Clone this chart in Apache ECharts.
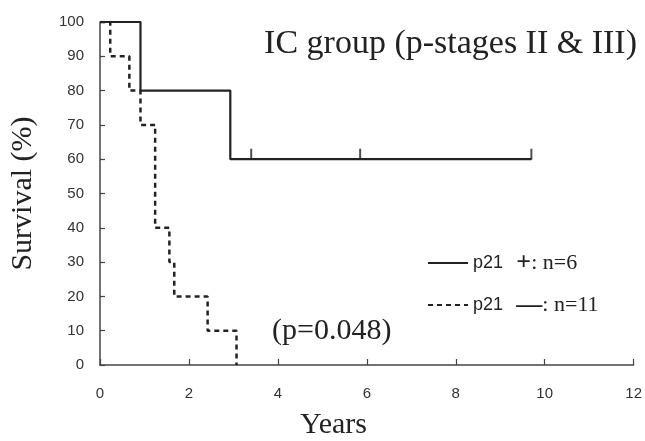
<!DOCTYPE html>
<html>
<head>
<meta charset="utf-8">
<script src="https://cdn.jsdelivr.net/npm/echarts@6/dist/echarts.min.js"></script>
<style>
  html, body { margin: 0; padding: 0; background: #fff; }
  #chart { width: 645px; height: 441px; }
</style>
</head>
<body>
<div id="chart"></div>
<script>
// Kaplan-Meier curves, [years, survival %]
const posCurve = [[0, 100], [0.91, 80], [2.93, 60], [9.7, 60]]
const negCurve = [[0, 100], [0.23, 90], [0.66, 80], [0.91, 70], [1.24, 40], [1.56, 30], [1.67, 20], [2.42, 10], [3.07, 0]]
// censored cases on the p21+ curve
const posCensored = [[3.4, 60], [5.85, 60], [9.7, 60]]

const xTicks = [0, 2, 4, 6, 8, 10, 12]
const yTicks = [0, 10, 20, 30, 40, 50, 60, 70, 80, 90, 100]

const legendText = {
	'p21+': { tag: '+', n: 6 },
	'p21-': { tag: '\u2014', n: 11 },
}

const serif = '"Liberation Serif", "DejaVu Serif", serif'
const narrow = '"Liberation Sans Narrow", "Liberation Sans", sans-serif'

const chart = echarts.init(document.getElementById('chart'))

const option = {
	animation: false,
	backgroundColor: '#fff',
	grid: { left: 88, right: 9, top: 22, bottom: 76 },
	xAxis: {
		type: 'value',
		min: xTicks[0],
		max: xTicks[xTicks.length - 1],
		interval: 2,
		axisLine: { lineStyle: { color: '#444', width: 1.5 } },
		axisTick: { inside: true, length: 6, lineStyle: { color: '#444', width: 1.2 } },
		axisLabel: { margin: 21, fontFamily: narrow, fontSize: 15, color: '#333' },
		splitLine: { show: false },
	},
	yAxis: {
		type: 'value',
		min: yTicks[0],
		max: yTicks[yTicks.length - 1],
		interval: 10,
		name: 'Survival (%)',
		nameLocation: 'middle',
		nameGap: 62,
		nameRotate: 90,
		nameTextStyle: { fontFamily: serif, fontSize: 30, color: '#222' },
		axisLine: { show: true, lineStyle: { color: '#444', width: 1.5 } },
		axisTick: { show: true, inside: true, length: 5, lineStyle: { color: '#444', width: 1.2 } },
		axisLabel: { margin: 16, fontFamily: narrow, fontSize: 15, color: '#333' },
		splitLine: { show: false },
	},
	legend: {
		orient: 'vertical',
		left: 422,
		top: 245,
		itemWidth: 40,
		itemHeight: 14,
		itemGap: 16,
		data: ['p21+', 'p21-'],
		itemStyle: { opacity: 0 },
		formatter: (name) => {
			const t = legendText[name]
			return '{a|p21}    {b|' + t.tag + '}{c|: n=' + t.n + '}'
		},
		textStyle: {
			rich: {
				a: { fontFamily: narrow, fontSize: 18, color: '#222' },
				b: { fontFamily: serif, fontSize: 26, fontWeight: 'bold', color: '#222' },
				c: { fontFamily: serif, fontSize: 22, color: '#222' },
			},
		},
	},
	graphic: [
		{
			type: 'text',
			right: 8,
			top: 27,
			style: { text: 'IC group (p-stages II & III)', font: '34px ' + serif, fill: '#222' },
		},
		{
			type: 'text',
			left: 272,
			top: 316,
			style: { text: '(p=0.048)', font: '30px ' + serif, fill: '#222' },
		},
		{
			type: 'text',
			left: 300,
			top: 410,
			style: { text: 'Years', font: '30px ' + serif, fill: '#222' },
		},
	],
	series: [
		{
			name: 'p21+',
			type: 'line',
			step: 'end',
			data: posCurve,
			symbol: 'none',
			lineStyle: { color: '#222', width: 2.2 },
			itemStyle: { color: '#222' },
			z: 3,
		},
		{
			name: 'p21-',
			type: 'line',
			step: 'end',
			data: negCurve,
			symbol: 'none',
			lineStyle: { color: '#222', width: 2.5, type: [5, 4] },
			itemStyle: { color: '#222' },
			z: 2,
		},
		{
			name: 'censored',
			type: 'scatter',
			data: posCensored,
			symbol: 'rect',
			symbolSize: [2, 11],
			symbolOffset: [0, -5],
			itemStyle: { color: '#222' },
			z: 4,
		},
	],
}

chart.setOption(option)
</script>
</body>
</html>
